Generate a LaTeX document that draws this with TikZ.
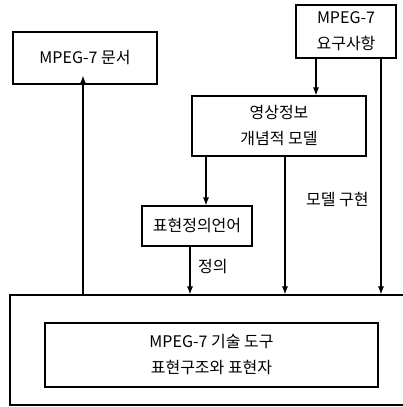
\documentclass[tikz,border=0pt]{standalone}
\usepackage{fontspec}
\setmainfont{Noto Sans CJK KR}
\usetikzlibrary{arrows.meta}
\tikzset{
  box/.style={draw, line width=1.1pt, inner sep=0pt, align=center, font=\fontsize{16}{26}\selectfont},
  lbl/.style={font=\fontsize{16}{20}\selectfont, inner sep=0pt},
  arr/.style={-{Latex[length=8pt,width=6pt]}, line width=1.1pt},
}
\begin{document}
\begin{tikzpicture}[x=1pt,y=-1pt]
\useasboundingbox (0,0) rectangle (403,407);
% boxes
\node[box, minimum width=144pt, minimum height=52pt] (doc) at (85,58) {MPEG-7 문서};
\node[box, minimum width=100pt, minimum height=53pt] (req) at (346,31.5) {MPEG-7\\요구사항};
\node[box, minimum width=174pt, minimum height=60pt] (model) at (279,126) {영상정보\\개념적 모델};
\node[box, minimum width=110pt, minimum height=40pt] (ddl) at (197,226) {표현정의언어};
\node[box, minimum width=396pt, minimum height=110pt] (outer) at (208,350) {};
\node[box, minimum width=333pt, minimum height=64pt] (inner) at (211.5,355) {MPEG-7 기술 도구\\표현구조와 표현자};
% connectors
\draw[arr] (outer.north -| 83,0) -- ([yshift=9pt]doc.south -| 83,0);
\draw[arr] (req.south -| 316,0) -- (model.north -| 316,0);
\draw[arr] (req.south -| 381,0) -- (outer.north -| 381,0);
\draw[arr] (model.south -| 206,0) -- (ddl.north -| 206,0);
\draw[arr] (model.south -| 285,0) -- (outer.north -| 285,0);
\draw[arr] (ddl.south -| 190,0) -- (outer.north -| 190,0);
% labels
\node[lbl, anchor=west] (def) at (198,267) {정의};
\node[lbl, anchor=west] (impl) at (306,200) {모델 구현};
\end{tikzpicture}
\end{document}
